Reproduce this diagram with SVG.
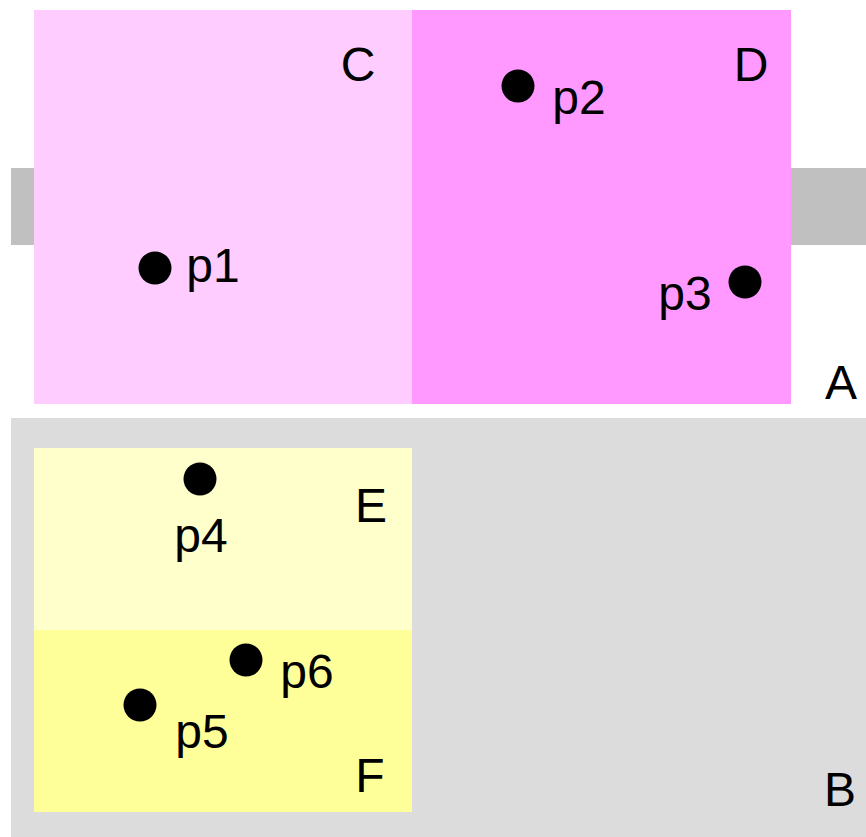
<svg xmlns="http://www.w3.org/2000/svg" width="866" height="837" viewBox="0 0 866 837">
  <style>
    .lbl { font-family: "Liberation Sans", Arial, sans-serif; font-size: 48px; fill: #000; text-anchor: middle; }
    .pt { fill: #000; }
  </style>
  <rect x="0" y="0" width="866" height="837" fill="#ffffff"/>

  <!-- Cluster A: grey band behind C and D -->
  <g id="A">
    <rect x="11" y="168" width="855" height="77" fill="#c0c0c0"/>
  </g>
  <g id="C">
    <rect x="34" y="10" width="378" height="394" fill="#ffccff"/>
    <text class="lbl" x="358" y="81">C</text>
  </g>
  <g id="D">
    <rect x="412" y="10" width="379" height="394" fill="#ff99ff"/>
    <text class="lbl" x="751" y="81">D</text>
  </g>
  <text class="lbl" x="841" y="399">A</text>

  <!-- Cluster B with sub-regions E and F -->
  <g id="B">
    <rect x="11" y="418" width="855" height="419" fill="#dcdcdc"/>
    <text class="lbl" x="840" y="806">B</text>
  </g>
  <g id="E">
    <rect x="34" y="448" width="378" height="182" fill="#ffffcc"/>
    <text class="lbl" x="371" y="522">E</text>
  </g>
  <g id="F">
    <rect x="34" y="630" width="378" height="182" fill="#ffff99"/>
    <text class="lbl" x="370" y="792">F</text>
  </g>

  <!-- Points -->
  <g id="p1"><circle class="pt" cx="155" cy="268" r="16.5"/><text class="lbl" x="213" y="282">p1</text></g>
  <g id="p2"><circle class="pt" cx="518" cy="86" r="16.5"/><text class="lbl" x="579" y="114">p2</text></g>
  <g id="p3"><circle class="pt" cx="745" cy="282" r="16.5"/><text class="lbl" x="685" y="310">p3</text></g>
  <g id="p4"><circle class="pt" cx="200" cy="479" r="16.5"/><text class="lbl" x="201" y="552">p4</text></g>
  <g id="p5"><circle class="pt" cx="140" cy="705" r="16.5"/><text class="lbl" x="202" y="748">p5</text></g>
  <g id="p6"><circle class="pt" cx="246" cy="660" r="16.5"/><text class="lbl" x="307" y="688">p6</text></g>
</svg>
